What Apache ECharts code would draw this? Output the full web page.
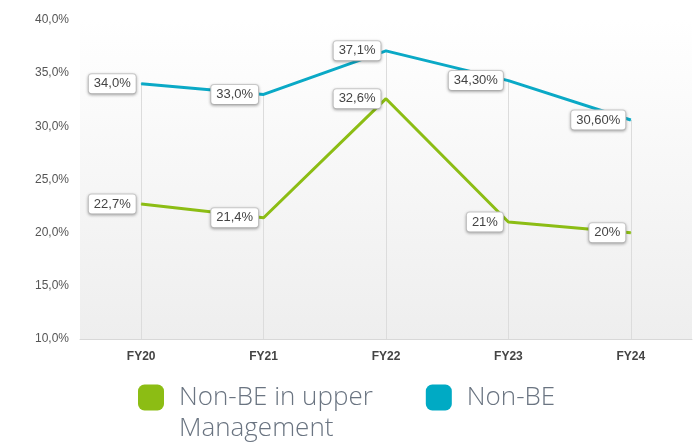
<!DOCTYPE html>
<html><head><meta charset="utf-8">
<script src="https://cdn.jsdelivr.net/npm/echarts@6/dist/echarts.min.js"></script>
<style>html,body{margin:0;padding:0;background:#fff}#c{width:698px;height:442px}</style>
</head><body><div id="c"></div>
<script>
var categories = ['FY20', 'FY21', 'FY22', 'FY23', 'FY24'];
var upperMgmtName = 'Non-BE in upper Management';
var nonBEName = 'Non-BE';
var upperMgmtValues = [22.7, 21.4, 32.6, 21.0, 20.0];
var upperMgmtLabels = ['22,7%', '21,4%', '32,6%', '21%', '20%'];
var nonBEValues = [34.0, 33.0, 37.1, 34.3, 30.6];
var nonBELabels = ['34,0%', '33,0%', '37,1%', '34,30%', '30,60%'];
var yMin = 10, yMax = 40, yStep = 5;

var chart = echarts.init(document.getElementById('c'));
var labelStyle = {
  show: true, position: 'left', distance: 5,
  backgroundColor: '#fff', borderColor: '#cfcfcf', borderWidth: 1, borderRadius: 3,
  padding: [3, 5], color: '#444', fontSize: 13, fontFamily: 'Liberation Sans',
  shadowBlur: 3, shadowColor: 'rgba(0,0,0,0.25)', shadowOffsetY: 1
};
function lbl(arr) { return function (p) { return arr[p.dataIndex]; }; }

var dropLines = categories.map(function (c, i) {
  var top = Math.max(nonBEValues[i], upperMgmtValues[i]);
  return [{ coord: [c, top] }, { coord: [c, yMin] }];
});

chart.setOption({
  animation: false,
  grid: {
    left: 80, right: 6, top: 20, bottom: 103, show: true, borderWidth: 0,
    backgroundColor: { type: 'linear', x: 0, y: 0, x2: 0, y2: 1,
      colorStops: [{ offset: 0, color: '#ffffff' }, { offset: 1, color: '#eeeeee' }] }
  },
  legend: {
    left: 133, top: 346, itemWidth: 26, itemHeight: 26, itemGap: 53, icon: 'roundRect',
    selectedMode: false,
    textStyle: { fontSize: 26, fontFamily: 'Open Sans', fontWeight: 300, color: '#6a7481', lineHeight: 31, padding: [0, 0, 0, 10] },
    formatter: function (n) { return n === upperMgmtName ? ' \nNon-BE in upper\nManagement' : ' \n' + n + '\n '; },
    data: [upperMgmtName, nonBEName]
  },
  xAxis: {
    type: 'category', data: categories, boundaryGap: true,
    axisLine: { lineStyle: { color: '#d8d8d8' } },
    axisTick: { show: false },
    axisLabel: { margin: 12, color: '#444', fontSize: 12, fontWeight: 'bold', fontFamily: 'Liberation Sans' },
    splitLine: { show: false }
  },
  yAxis: {
    type: 'value', min: yMin, max: yMax, interval: yStep,
    axisLine: { show: false }, axisTick: { show: false }, splitLine: { show: false },
    axisLabel: { margin: 11, color: '#555', fontSize: 12, fontFamily: 'Liberation Sans',
      formatter: function (v) { return v.toFixed(1).replace('.', ',') + '%'; } }
  },
  series: [
    {
      name: upperMgmtName, type: 'line', data: upperMgmtValues, showSymbol: true,
      symbol: 'circle', symbolSize: 1, color: '#8cbd14', lineStyle: { width: 3, color: '#8cbd14' },
      label: Object.assign({}, labelStyle, { formatter: lbl(upperMgmtLabels) }), z: 3
    },
    {
      name: nonBEName, type: 'line', data: nonBEValues, showSymbol: true,
      symbol: 'circle', symbolSize: 1, color: '#00aac4', lineStyle: { width: 3, color: '#0aa9c6' },
      label: Object.assign({}, labelStyle, { formatter: lbl(nonBELabels) }), z: 3,
      markLine: { silent: true, symbol: 'none', label: { show: false }, z: 1,
        lineStyle: { color: '#dcdcdc', width: 1, type: 'solid' }, data: dropLines }
    }
  ]
});
</script></body></html>
